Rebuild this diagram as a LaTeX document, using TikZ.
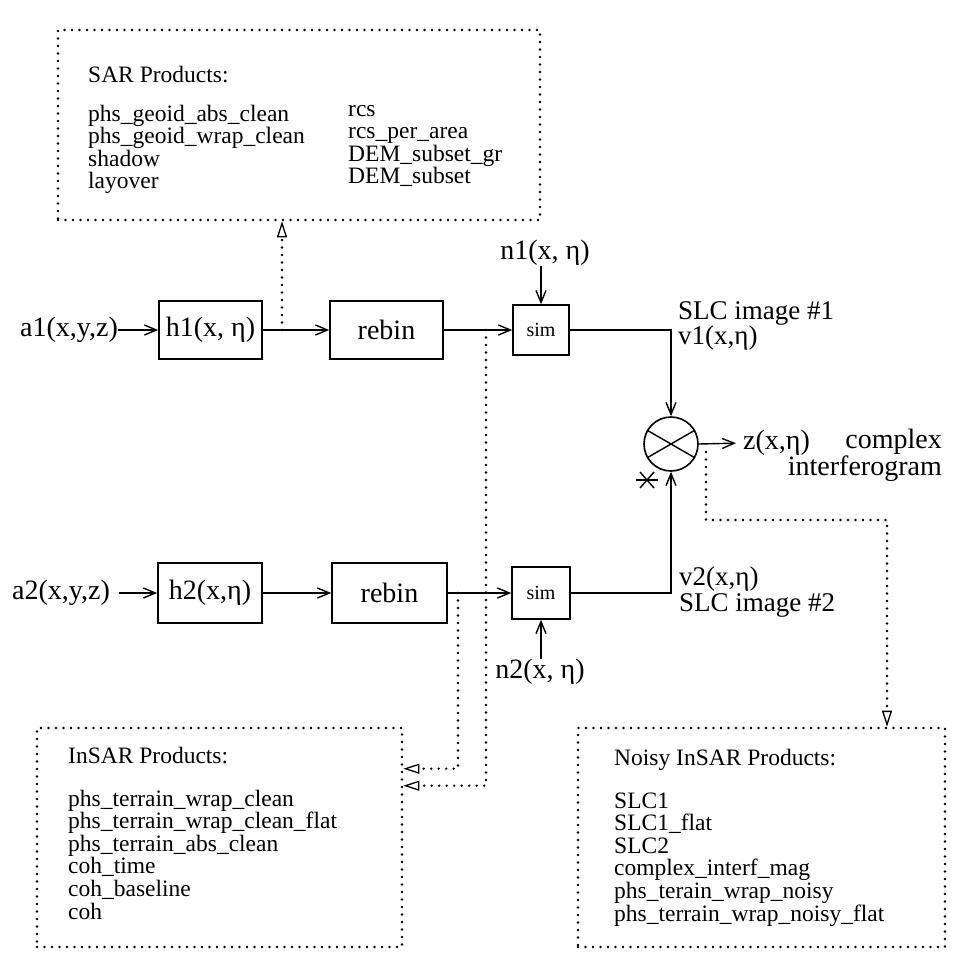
\documentclass[tikz,border=0pt]{standalone}
\usepackage{fontspec}
\setmainfont{Liberation Serif}
\usetikzlibrary{arrows.meta}
\begin{document}
\begin{tikzpicture}[x=1pt,y=-1pt,
  blk/.style={draw,line width=1.6pt,inner sep=0pt,font=\fontsize{28}{30}\selectfont},
  lbl/.style={inner sep=0pt,font=\fontsize{28}{30}\selectfont},
  lst/.style={inner sep=0pt,anchor=base west,font=\fontsize{23.5}{24}\selectfont},
  dotline/.style={line width=2.6pt,dash pattern=on 0pt off 7.5pt,line cap=round},
  prod/.style={draw,dotline,inner sep=0pt},
  sol/.style={line width=1.4pt,-{Straight Barb[length=12pt,width=10pt,line width=1.4pt]}},
  dar/.style={dotline,-{Triangle[open,length=16pt,width=10pt,line width=1.3pt]}},
  thin/.style={line width=1.4pt}
]
\useasboundingbox (0,0) rectangle (960,961);

% product boxes
\node[prod,minimum width=482pt,minimum height=190pt] (sar) at (299,125) {};
\node[prod,minimum width=365pt,minimum height=219pt] (insar) at (219.5,837.5) {};
\node[prod,minimum width=367pt,minimum height=219pt] (noisy) at (761.5,837.5) {};

% SAR products text
\node[lst] (sart) at (88,82) {SAR Products:};
\foreach \t [count=\i] in {phs\_geoid\_abs\_clean,phs\_geoid\_wrap\_clean,shadow,layover}
  \node[lst] (sarl\i) at (88,{121+22.6*(\i-1)}) {\t};
\foreach \t [count=\i] in {rcs,rcs\_per\_area,DEM\_subset\_gr,DEM\_subset}
  \node[lst] (sarr\i) at (348,{116+22.6*(\i-1)}) {\t};

% InSAR products text
\node[lst] (insart) at (68,763) {InSAR Products:};
\foreach \t [count=\i] in {phs\_terrain\_wrap\_clean,phs\_terrain\_wrap\_clean\_flat,phs\_terrain\_abs\_clean,coh\_time,coh\_baseline,coh}
  \node[lst] (insarl\i) at (68,{806+22.6*(\i-1)}) {\t};

% Noisy InSAR products text
\node[lst] (noisyt) at (614,765) {Noisy InSAR Products:};
\foreach \t [count=\i] in {SLC1,SLC1\_flat,SLC2,complex\_interf\_mag,phs\_terain\_wrap\_noisy,phs\_terrain\_wrap\_noisy\_flat}
  \node[lst] (noisyl\i) at (614,{808+22.6*(\i-1)}) {\t};

% row 1
\node[lbl,anchor=east] (a1) at (118,330) {a1(x,y,z)};
\node[blk,minimum width=103pt,minimum height=58pt] (h1) at (210.5,330) {h1(x, η)};
\node[blk,minimum width=113pt,minimum height=58pt] (rebin1) at (386.5,330) {rebin};
\node[blk,minimum width=56pt,minimum height=50pt,font=\fontsize{20}{22}\selectfont] (sim1) at (541,330) {sim};
\node[lbl] (n1) at (545,253) {n1(x, η)};

% row 2
\node[lbl,anchor=east] (a2) at (110,593) {a2(x,y,z)};
\node[blk,minimum width=104pt,minimum height=60pt] (h2) at (210,593) {h2(x,η)};
\node[blk,minimum width=115pt,minimum height=60pt] (rebin2) at (389.5,593) {rebin};
\node[blk,minimum width=58pt,minimum height=52pt,font=\fontsize{20}{22}\selectfont] (sim2) at (541,593) {sim};
\node[lbl] (n2) at (540,672) {n2(x, η)};

% multiplier
\node[draw,circle,line width=1.6pt,minimum size=54pt,inner sep=0pt] (mult) at (671,444) {};
\draw[thin] (mult.150) -- (mult.-30);
\draw[thin] (mult.30) -- (mult.210);

% labels
\node[lbl,anchor=west,align=left,font=\fontsize{27}{25}\selectfont] (slc1) at (678,326) {SLC image \#1\\v1(x,η)};
\node[lbl,anchor=west,align=left,font=\fontsize{27}{26}\selectfont] (v2) at (679,592) {v2(x,η)\\SLC image \#2};
\node[lbl,anchor=west] (z) at (743,443) {z(x,η)};
\node[lbl,anchor=east,align=right,font=\fontsize{28}{25}\selectfont] (cplx) at (942,455) {complex\hspace{9pt}\\interferogram};

% conjugate star
\coordinate (star) at (647,480);
\draw[thin] ([xshift=-11pt]star) -- ([xshift=11pt]star);
\draw[thin] ([shift={(-7pt,-8pt)}]star) -- ([shift={(7pt,8pt)}]star);
\draw[thin] ([shift={(-7pt,8pt)}]star) -- ([shift={(7pt,-8pt)}]star);

% solid connectors
\draw[sol] (a1.east) -- (h1.west);
\draw[sol] (h1.east) -- (rebin1.west);
\draw[sol] (rebin1.east) -- (sim1.west);
\draw[sol,shorten <=9pt] (a2.east) -- (h2.west);
\draw[sol] (h2.east) -- (rebin2.west);
\draw[sol] (rebin2.east) -- (sim2.west);
\draw[sol] (n1.south -| sim1.north) -- (sim1.north);
\draw[sol] (n2.north -| sim2.south) -- (sim2.south);
\draw[sol] (sim1.east) -| (mult.north);
\draw[sol] (sim2.east) -| (mult.south);
\draw[sol,shorten >=7pt] (mult.east) -- (z.west);

% dotted connectors
\coordinate (j1) at (282,330);
\draw[dar] (j1) -- (sar.south -| j1);
\coordinate (j2) at (486,330);
\draw[dar] (j2) |- ([yshift=-59pt]insar.north east);
\coordinate (j3) at (458,593);
\draw[dar] (j3) |- ([yshift=-42pt]insar.north east);
\coordinate (j4) at (706,452);
\coordinate (t4) at (887,520);
\draw[dar] (j4) |- (t4) -- (t4 |- noisy.north);
\end{tikzpicture}
\end{document}
